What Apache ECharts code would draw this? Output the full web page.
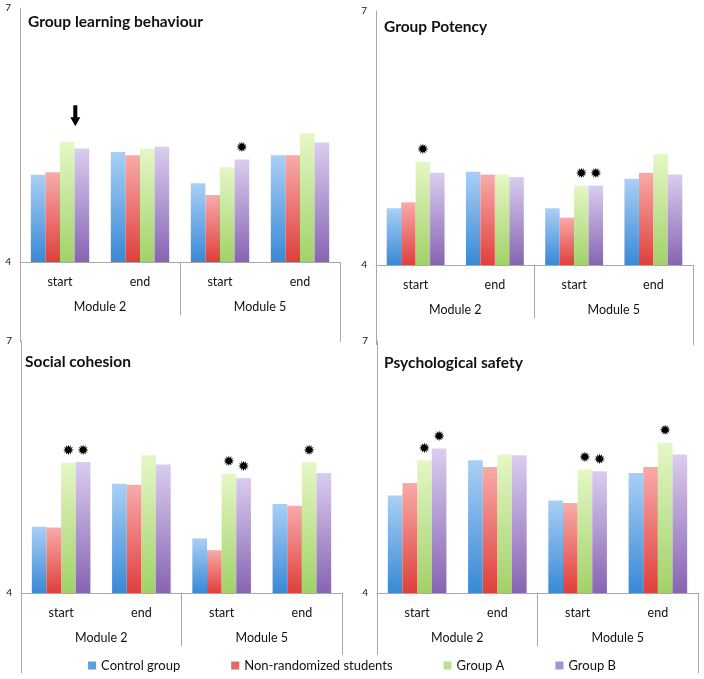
<!DOCTYPE html>
<html>
<head>
<meta charset="utf-8">
<script src="https://cdn.jsdelivr.net/npm/echarts@6/dist/echarts.min.js"></script>
<style>
html,body{margin:0;padding:0;background:#fff;}
#main{width:704px;height:679px;}
</style>
</head>
<body>
<div id="main"></div>
<script>
// ---------- data ----------
const categories = ['start', 'end', 'start', 'end'];
const modules = ['Module 2', 'Module 5'];
const seriesNames = ['Control group', 'Non-randomized students', 'Group A', 'Group B'];
const panelTitles = ['Group learning behaviour', 'Group Potency', 'Social cohesion', 'Psychological safety'];
const yTicks = [4, 7];

// Group learning behaviour
const glbControl = [5.03, 5.30, 4.93, 5.26];
const glbNonRand = [5.06, 5.26, 4.79, 5.26];
const glbGroupA  = [5.42, 5.34, 5.12, 5.52];
const glbGroupB  = [5.34, 5.36, 5.21, 5.41];
// Group Potency
const gpControl = [4.67, 5.10, 4.67, 5.02];
const gpNonRand = [4.74, 5.07, 4.56, 5.09];
const gpGroupA  = [5.22, 5.07, 4.94, 5.31];
const gpGroupB  = [5.09, 5.04, 4.94, 5.07];
// Social cohesion
const scControl = [4.79, 5.30, 4.65, 5.06];
const scNonRand = [4.78, 5.29, 4.51, 5.04];
const scGroupA  = [5.55, 5.64, 5.42, 5.56];
const scGroupB  = [5.56, 5.53, 5.37, 5.43];
// Psychological safety
const psControl = [5.16, 5.58, 5.10, 5.43];
const psNonRand = [5.31, 5.50, 5.07, 5.50];
const psGroupA  = [5.58, 5.65, 5.47, 5.79];
const psGroupB  = [5.72, 5.64, 5.45, 5.65];

// significance marks (1 = asterisk above bar)
const glbStarA = [0, 0, 0, 0], glbStarB = [0, 0, 1, 0];
const gpStarA  = [1, 0, 1, 0], gpStarB  = [0, 0, 1, 0];
const scStarA  = [1, 0, 1, 1], scStarB  = [1, 0, 1, 0];
const psStarA  = [1, 0, 1, 1], psStarB  = [1, 0, 1, 0];
// arrow annotation: panel 0, Group A, category index 0
const arrowMark = { panel: 0, series: 2, index: 0 };

// ---------- build ----------
const panelValues = [
  [glbControl, glbNonRand, glbGroupA, glbGroupB],
  [gpControl, gpNonRand, gpGroupA, gpGroupB],
  [scControl, scNonRand, scGroupA, scGroupB],
  [psControl, psNonRand, psGroupA, psGroupB]
];
const panelStars = [
  [null, null, glbStarA, glbStarB],
  [null, null, gpStarA, gpStarB],
  [null, null, scStarA, scStarB],
  [null, null, psStarA, psStarB]
];

const gridBoxes = [
  { left: 20,  top: 8,   width: 320, height: 254 },
  { left: 376, top: 11,  width: 317, height: 254 },
  { left: 21,  top: 341, width: 321, height: 252 },
  { left: 377, top: 341, width: 321, height: 252 }
];
const titlePos = [
  { left: 28,  top: 14 },
  { left: 384, top: 19 },
  { left: 25,  top: 354 },
  { left: 384, top: 355 }
];

const gradTop = ['#aacff5', '#f8aba9', '#e5f7c6', '#dacdef'];
const gradBot = ['#3889d6', '#df3f3c', '#a2d168', '#8764b2'];
const legendColors = ['#5a9de0', '#e36868', '#bce191', '#a892cf'];
const lineGray = '#a8a8a8';
const FONT = 'Lato, "Open Sans", sans-serif';

function grad(i) {
  return {
    type: 'linear', x: 0, y: 0, x2: 0, y2: 1,
    colorStops: [{ offset: 0, color: gradTop[i] }, { offset: 1, color: gradBot[i] }]
  };
}

const option = {
  animation: false,
  backgroundColor: '#fff',
  title: [],
  grid: [],
  xAxis: [],
  yAxis: [],
  series: [],
  legend: {
    left: 'center',
    top: 655,
    padding: [4, 12, 10, 12],
    backgroundColor: '#fff',
    itemWidth: 8,
    itemHeight: 8,
    itemGap: 51,
    icon: 'rect',
    textStyle: { fontFamily: FONT, fontSize: 13, color: '#111' },
    data: seriesNames.map((n, i) => ({ name: n, itemStyle: { color: legendColors[i] } }))
  }
};

for (let p = 0; p < 4; p++) {
  const g = gridBoxes[p];
  option.grid.push({ left: g.left, top: g.top, width: g.width, height: g.height, containLabel: false });
  option.title.push({
    text: panelTitles[p], left: titlePos[p].left, top: titlePos[p].top, padding: 0,
    textStyle: { fontFamily: FONT, fontSize: 15.5, fontWeight: 'bold', color: '#111' }
  });
  // category axis (start / end)
  option.xAxis.push({
    type: 'category', gridIndex: p, data: categories, position: 'bottom',
    axisLine: { show: true, lineStyle: { color: lineGray, width: 1 } },
    axisTick: { show: false },
    axisLabel: { margin: 13, fontFamily: FONT, fontSize: 12.5, color: '#111' }
  });
  // module axis
  option.xAxis.push({
    type: 'category', gridIndex: p, data: modules, position: 'bottom',
    axisLine: { show: false },
    axisTick: { show: true, interval: 0, length: 53, lineStyle: { color: lineGray, width: 1 } },
    axisLabel: { margin: 38, fontFamily: FONT, fontSize: 12.5, color: '#111' }
  });
  // outer frame ticks
  option.xAxis.push({
    type: 'value', gridIndex: p, min: 0, max: 2, interval: 2, position: 'bottom',
    axisLine: { show: false },
    axisTick: { show: true, length: 80, lineStyle: { color: lineGray, width: 1 } },
    axisLabel: { show: false },
    splitLine: { show: false }
  });
  option.yAxis.push({
    type: 'value', gridIndex: p, min: yTicks[0], max: yTicks[1], interval: yTicks[1] - yTicks[0],
    axisLine: { show: true, lineStyle: { color: lineGray, width: 1 } },
    axisTick: { show: false },
    splitLine: { show: false },
    axisLabel: { margin: 9, fontFamily: FONT, fontSize: 10, color: '#111' }
  });

  for (let s = 0; s < 4; s++) {
    const vals = panelValues[p][s];
    const stars = panelStars[p][s];
    const data = vals.map((v, k) => {
      if (stars && stars[k]) {
        return {
          value: v,
          label: {
            show: true, position: 'top', distance: 4, formatter: '\u2739',
            fontFamily: '"DejaVu Sans"', fontSize: 14, color: '#000'
          }
        };
      }
      return v;
    });
    const ser = {
      type: 'bar', name: seriesNames[s],
      xAxisIndex: p * 3, yAxisIndex: p,
      barGap: '0%', barCategoryGap: '27%',
      itemStyle: { color: grad(s) },
      data: data
    };
    if (arrowMark.panel === p && arrowMark.series === s) {
      ser.markPoint = {
        symbol: 'path://M3,0 L7,0 L7,12 L10,12 L5,21 L0,12 L3,12 Z',
        symbolSize: [10, 21],
        symbolOffset: [8, -26],
        itemStyle: { color: '#000' },
        label: { show: false },
        data: [{ coord: [arrowMark.index, vals[arrowMark.index]] }]
      };
    }
    option.series.push(ser);
  }
}

const chart = echarts.init(document.getElementById('main'), null, { renderer: 'canvas' });
chart.setOption(option);
</script>
</body>
</html>
